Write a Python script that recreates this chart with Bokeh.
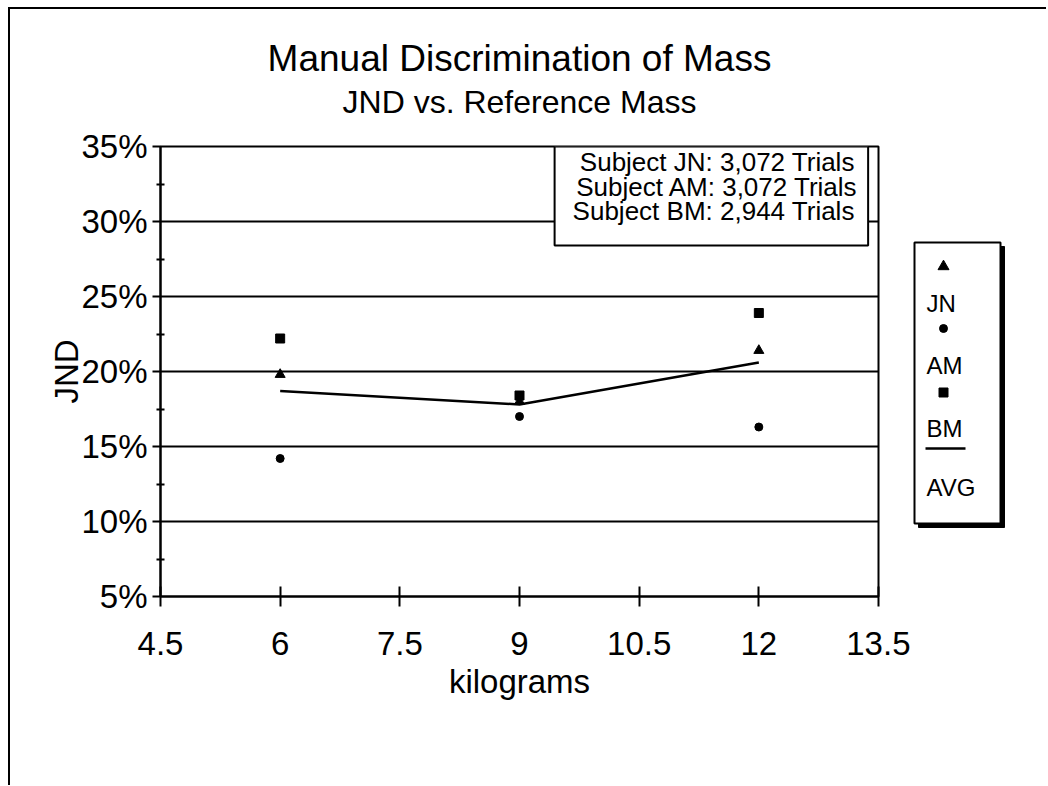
from bokeh.plotting import figure
from bokeh.models import (Range1d, FixedTicker, PrintfTickFormatter,
                          CustomJSTickFormatter, Title)
from bokeh.layouts import row
from bokeh.core.properties import value
from bokeh.embed import file_html
from bokeh.resources import INLINE

FONT = "Liberation Sans"

# ---- data ----
kilograms = [6, 9, 12]
jnd_jn = [19.8, 18.0, 21.4]
jnd_am = [14.2, 17.0, 16.3]
jnd_bm = [22.2, 18.4, 23.9]
jnd_avg = [18.7, 17.8, 20.6]

x_ticks = [4.5, 6, 7.5, 9, 10.5, 12, 13.5]
y_ticks = [5, 10, 15, 20, 25, 30, 35]
y_minor = [7.5, 12.5, 17.5, 22.5, 27.5, 32.5]

title_text = "Manual Discrimination of Mass"
subtitle_text = "JND vs. Reference Mass"
x_label = "kilograms"
y_label = "JND"
subject_lines = ["Subject JN: 3,072 Trials",
                 "Subject AM: 3,072 Trials",
                 "Subject BM:  2,944 Trials"]
legend_names = ["JN", "AM", "BM", "AVG"]

H = 776
TOP = 137
BOTTOM = H - TOP - 450

# ---- main chart ----
p = figure(width=900, height=H, title=None,
           x_range=Range1d(4.5, 13.5), y_range=Range1d(5, 35),
           output_backend="svg", toolbar_location=None,
           min_border_left=150, min_border_right=32,
           min_border_top=TOP, min_border_bottom=BOTTOM)
p.background_fill_color = "white"
p.border_fill_color = "white"
p.outline_line_color = "black"
p.outline_line_width = 2

p.xgrid.visible = False
p.ygrid.ticker = FixedTicker(ticks=y_ticks)
p.ygrid.grid_line_color = "black"
p.ygrid.grid_line_width = 2
p.ygrid.grid_line_alpha = 1.0

p.xaxis.ticker = FixedTicker(ticks=x_ticks, minor_ticks=[])
p.xaxis.formatter = CustomJSTickFormatter(code="return tick.toString();")
p.xaxis.major_tick_in = 10
p.xaxis.major_tick_out = 10
p.xaxis.major_label_standoff = 25
p.xaxis.axis_label = x_label
p.xaxis.axis_label_standoff = 5

p.yaxis.ticker = FixedTicker(ticks=y_ticks, minor_ticks=y_minor)
p.yaxis.formatter = PrintfTickFormatter(format="%d%%")
p.yaxis.major_tick_in = 0
p.yaxis.major_tick_out = 8
p.yaxis.minor_tick_in = 4
p.yaxis.minor_tick_out = 4
p.yaxis.major_label_standoff = 5
p.yaxis.axis_label = y_label
p.yaxis.axis_label_standoff = -7

for ax in (p.xaxis[0], p.yaxis[0]):
    ax.axis_line_color = "black"
    ax.axis_line_width = 2
    ax.major_tick_line_color = "black"
    ax.major_tick_line_width = 2
    ax.minor_tick_line_color = "black"
    ax.minor_tick_line_width = 2
    ax.major_label_text_font = FONT
    ax.major_label_text_font_size = "33px"
    ax.major_label_text_color = "black"
    ax.axis_label_text_font = FONT
    ax.axis_label_text_font_size = "33px"
    ax.axis_label_text_font_style = "normal"
    ax.axis_label_text_color = "black"

# titles: first added sits nearest the frame
p.add_layout(Title(text=subtitle_text, align="center", text_font=FONT,
                   text_font_size="32px", text_font_style="normal",
                   text_color="black", standoff=53), "above")
p.add_layout(Title(text=title_text, align="center", text_font=FONT,
                   text_font_size="37px", text_font_style="normal",
                   text_color="black", standoff=-46), "above")

# subject info box
p.quad(left=[9.44], right=[13.37], bottom=[28.4], top=[35.0],
       fill_color="white", line_color="black", line_width=2)
p.text(x=[11.48] * 3, y=[33.95, 32.30, 30.70], text=subject_lines,
       text_align="center", text_baseline="middle",
       text_font=value(FONT), text_font_size="26px", text_color="black")

# series
p.line(kilograms, jnd_avg, line_color="black", line_width=2.5)
p.scatter(kilograms, jnd_jn, marker="triangle", size=10,
          fill_color="black", line_color="black")
p.scatter(kilograms, jnd_am, marker="circle", size=8,
          fill_color="black", line_color="black")
p.scatter(kilograms, jnd_bm, marker="square", size=9,
          fill_color="black", line_color="black")

# ---- legend panel (its ranges are page pixels) ----
leg = figure(width=136, height=H, title=None,
             x_range=Range1d(910, 1046), y_range=Range1d(596, 146),
             output_backend="svg", toolbar_location=None,
             min_border_left=0, min_border_right=0,
             min_border_top=TOP, min_border_bottom=BOTTOM,
             x_axis_location=None, y_axis_location=None)
leg.grid.visible = False
leg.outline_line_color = None
leg.background_fill_color = "white"
leg.border_fill_color = "white"

box_l, box_r, box_t, box_b, shadow = 914, 1000, 242, 523, 4
leg.quad(left=[box_l + shadow], right=[box_r + shadow],
         top=[box_t + shadow], bottom=[box_b + shadow],
         fill_color="black", line_color="black")
leg.quad(left=[box_l], right=[box_r], top=[box_t], bottom=[box_b],
         fill_color="white", line_color="black", line_width=2)

marker_x = 943
marker_y = [266, 328, 392]
marker_kind = ["triangle", "circle", "square"]
marker_size = [11, 8, 9]
for my, mk, ms in zip(marker_y, marker_kind, marker_size):
    leg.scatter([marker_x], [my], marker=mk, size=ms,
                fill_color="black", line_color="black")
leg.line([925, 965], [448, 448], line_color="black", line_width=2.5)
leg.text(x=[926] * 4, y=[303, 365, 428, 487], text=legend_names,
         text_align="left", text_baseline="middle",
         text_font=value(FONT), text_font_size="24px", text_color="black")

layout = row(p, leg, spacing=0)
layout.styles = {"margin-left": "8px", "margin-top": "7px",
                 "border-left": "2px solid black",
                 "border-top": "2px solid black"}

with open("out.html", "w") as f:
    f.write(file_html(layout, INLINE))
